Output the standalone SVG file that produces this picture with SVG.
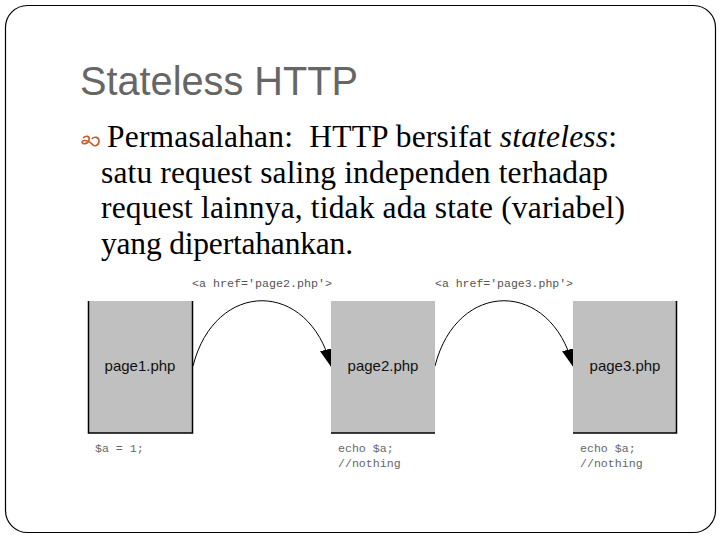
<svg xmlns="http://www.w3.org/2000/svg" width="720" height="540" viewBox="0 0 720 540">
<defs>
<style>
.title{font-family:"Liberation Sans",Arial,sans-serif;font-size:40px;fill:#666666}
.body{font-family:"Liberation Serif","Times New Roman",serif;font-size:31.5px;fill:#000}
.page{fill:#c0c0c0}
.edge{fill:none;stroke:#000;stroke-width:1.5}
.plabel{font-family:"Liberation Sans",Arial,sans-serif;font-size:15px;fill:#111;text-anchor:middle}
.code{font-family:"Liberation Mono","Courier New",monospace;font-size:11.6px;fill:#666}
.href{font-family:"Liberation Mono","Courier New",monospace;font-size:11.5px;fill:#555}
.arc{fill:none;stroke:#000;stroke-width:1;marker-end:url(#ah)}
</style>
<marker id="ah" markerWidth="18" markerHeight="14" refX="17" refY="7" orient="auto" markerUnits="userSpaceOnUse">
<path d="M0,0 L18,7 L0,14 Z" fill="#000"/>
</marker>
</defs>
<rect x="5.5" y="5.5" width="710" height="527" rx="22" ry="22" fill="#fff" stroke="#000" stroke-width="1.2"/>
<text class="title" x="80" y="95" textLength="278" lengthAdjust="spacingAndGlyphs">Stateless HTTP</text>
<g id="bullet" fill="none" stroke="#c0602a" stroke-width="1.6">
<path d="M83,138 C86,135 90,136 89,140 C88,144 82,145 82,142 C83,139 90,141 92,144 C94,147 99,146 99,141 C99,137 94,136 92,139"/>
</g>
<text class="body" x="107" y="147" xml:space="preserve" textLength="510" lengthAdjust="spacing">Permasalahan:  HTTP bersifat <tspan font-style="italic">stateless</tspan>:</text>
<text class="body" x="101" y="182.5" textLength="507" lengthAdjust="spacing">satu request saling independen terhadap</text>
<text class="body" x="101" y="218" textLength="524" lengthAdjust="spacing">request lainnya, tidak ada state (variabel)</text>
<text class="body" x="101" y="253.5" textLength="252" lengthAdjust="spacing">yang dipertahankan.</text>
<g id="connectors">
<path class="arc" d="M193,366 C215,279 309,279 331,366"/>
<path class="arc" d="M435,366 C457,279 551,279 573,366"/>
<text class="href" x="192" y="287" textLength="140" lengthAdjust="spacingAndGlyphs">&lt;a href='page2.php'&gt;</text>
<text class="href" x="435" y="287" textLength="138" lengthAdjust="spacingAndGlyphs">&lt;a href='page3.php'&gt;</text>
</g>
<g id="page1">
<rect class="page" x="88" y="301" width="105" height="132"/>
<path class="edge" d="M88.5,301 V433 H192.5 V301"/>
<text class="plabel" x="140" y="371">page1.php</text>
<text class="code" x="95" y="452">$a = 1;</text>
</g>
<g id="page2">
<rect class="page" x="331" y="301" width="104" height="132"/>
<path class="edge" d="M331,433 H435"/>
<text class="plabel" x="383" y="371">page2.php</text>
<text class="code" x="338" y="452">echo $a;</text>
<text class="code" x="338" y="467">//nothing</text>
</g>
<g id="page3">
<rect class="page" x="573" y="301" width="104" height="132"/>
<path class="edge" d="M573,433 H676.5 V301"/>
<text class="plabel" x="625" y="371">page3.php</text>
<text class="code" x="580" y="452">echo $a;</text>
<text class="code" x="580" y="467">//nothing</text>
</g>
</svg>
